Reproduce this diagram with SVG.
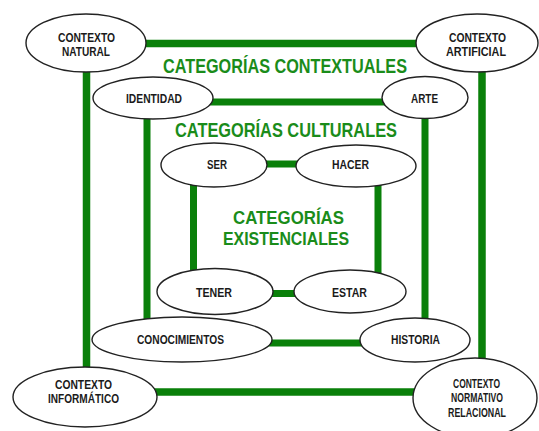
<svg xmlns="http://www.w3.org/2000/svg" width="539" height="431" viewBox="0 0 539 431">
<style>
.bg{fill:#ffffff}
.conn{fill:none;stroke:#0a800a;stroke-linejoin:miter}
.node ellipse{fill:#ffffff;stroke:#222222;stroke-width:1.4}
.node text{font-family:"Liberation Sans",Arial,sans-serif;font-weight:bold;font-size:13px;fill:#1a1a1a}
.title{font-family:"Liberation Sans",Arial,sans-serif;font-weight:bold;fill:#1a8c1a}
</style>
<rect class="bg" x="0" y="0" width="539" height="431"/>
<g id="connectors">
<path class="conn" stroke-width="7.5" d="M86.5,43.5 H482 V392 H86.5 Z"/>
<path class="conn" stroke-width="7" d="M147,102 H425 V343 H147 Z"/>
<path class="conn" stroke-width="7" d="M193.5,164 H378 V293.5 H193.5 Z"/>
</g>
<g id="titles">
<text class="title" x="163" y="73" font-size="20" textLength="244" lengthAdjust="spacingAndGlyphs">CATEGORÍAS CONTEXTUALES</text>
<text class="title" x="175" y="137" font-size="20" textLength="222" lengthAdjust="spacingAndGlyphs">CATEGORÍAS CULTURALES</text>
<text class="title" x="233" y="224" font-size="19" textLength="111" lengthAdjust="spacingAndGlyphs">CATEGORÍAS</text>
<text class="title" x="223" y="245" font-size="19" textLength="126" lengthAdjust="spacingAndGlyphs">EXISTENCIALES</text>
</g>
<g id="contexto-natural" class="node">
<ellipse cx="86" cy="43" rx="60" ry="29"/>
<text x="58" y="42" textLength="57" lengthAdjust="spacingAndGlyphs">CONTEXTO</text>
<text x="62" y="55.5" textLength="48" lengthAdjust="spacingAndGlyphs">NATURAL</text>
</g>
<g id="contexto-artificial" class="node">
<ellipse cx="477" cy="43" rx="61" ry="29"/>
<text x="449" y="42" textLength="57" lengthAdjust="spacingAndGlyphs">CONTEXTO</text>
<text x="446" y="55.5" textLength="60" lengthAdjust="spacingAndGlyphs">ARTIFICIAL</text>
</g>
<g id="identidad" class="node">
<ellipse cx="153" cy="98" rx="60" ry="21"/>
<text x="126" y="102.5" textLength="56" lengthAdjust="spacingAndGlyphs">IDENTIDAD</text>
</g>
<g id="arte" class="node">
<ellipse cx="425" cy="97.5" rx="43" ry="21"/>
<text x="411" y="102.5" textLength="27" lengthAdjust="spacingAndGlyphs">ARTE</text>
</g>
<g id="ser" class="node">
<ellipse cx="214" cy="165" rx="53" ry="22"/>
<text x="207" y="168.5" textLength="20" lengthAdjust="spacingAndGlyphs">SER</text>
</g>
<g id="hacer" class="node">
<ellipse cx="356" cy="166" rx="60" ry="21"/>
<text x="332" y="168.5" textLength="37" lengthAdjust="spacingAndGlyphs">HACER</text>
</g>
<g id="tener" class="node">
<ellipse cx="215" cy="291.5" rx="58" ry="23"/>
<text x="196" y="296.5" textLength="36" lengthAdjust="spacingAndGlyphs">TENER</text>
</g>
<g id="estar" class="node">
<ellipse cx="350" cy="291.5" rx="56" ry="21.5"/>
<text x="332" y="296.5" textLength="35" lengthAdjust="spacingAndGlyphs">ESTAR</text>
</g>
<g id="conocimientos" class="node">
<ellipse cx="182" cy="339.5" rx="90" ry="22.5"/>
<text x="137" y="343.5" textLength="87" lengthAdjust="spacingAndGlyphs">CONOCIMIENTOS</text>
</g>
<g id="historia" class="node">
<ellipse cx="415" cy="340" rx="55" ry="22"/>
<text x="391" y="343.5" textLength="49" lengthAdjust="spacingAndGlyphs">HISTORIA</text>
</g>
<g id="contexto-informatico" class="node">
<ellipse cx="85" cy="397" rx="72" ry="30"/>
<text x="55" y="388.5" textLength="57" lengthAdjust="spacingAndGlyphs">CONTEXTO</text>
<text x="48" y="402.5" textLength="71" lengthAdjust="spacingAndGlyphs">INFORMÁTICO</text>
</g>
<g id="contexto-normativo-relacional" class="node">
<ellipse cx="475" cy="398" rx="62" ry="40"/>
<text x="453" y="387.5" textLength="47" lengthAdjust="spacingAndGlyphs">CONTEXTO</text>
<text x="451" y="402" textLength="52" lengthAdjust="spacingAndGlyphs">NORMATIVO</text>
<text x="448" y="416.5" textLength="58" lengthAdjust="spacingAndGlyphs">RELACIONAL</text>
</g>
</svg>
